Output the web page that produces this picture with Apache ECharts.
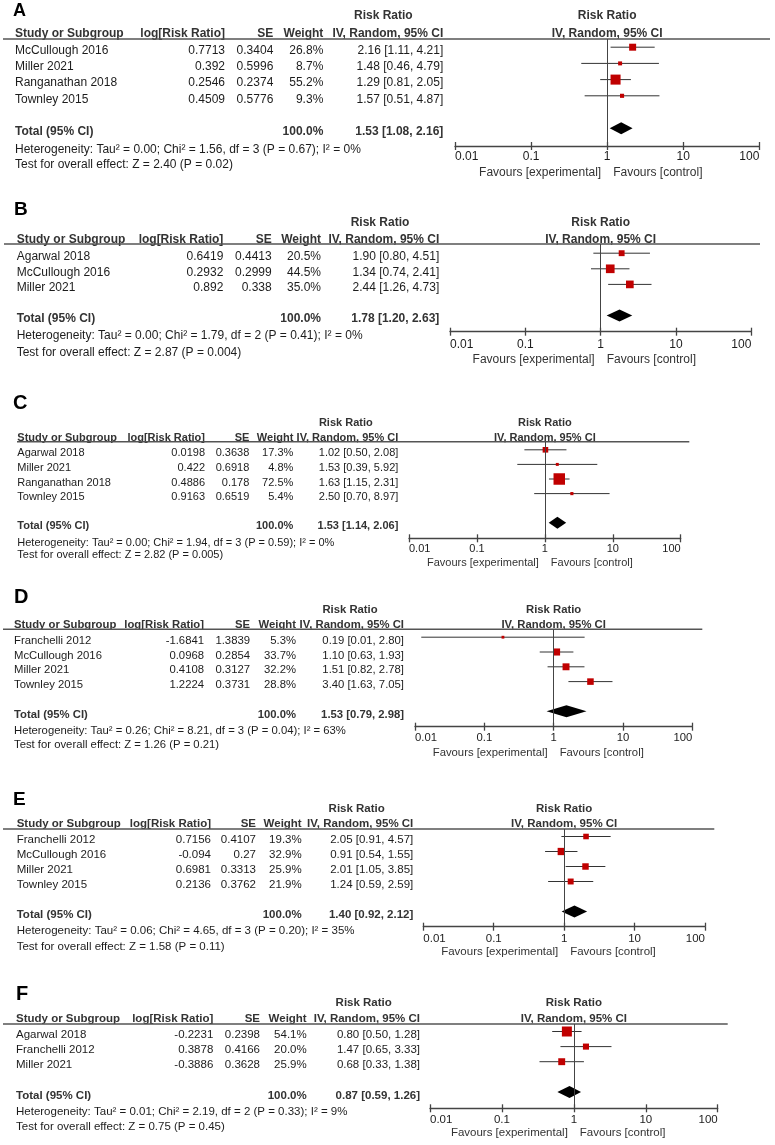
<!DOCTYPE html>
<html><head><meta charset="utf-8">
<script src="https://cdn.jsdelivr.net/npm/echarts@6/dist/echarts.min.js"></script>
<style>html,body{margin:0;padding:0;background:#fff;}#c{width:775px;height:1145px;}</style>
</head><body><div id="c"></div>
<script>
const tickValues = [0.01, 0.1, 1, 10, 100];
const tickLabels = ['0.01', '0.1', '1', '10', '100'];

// Panel A
const studiesA = ['McCullough 2016', 'Miller 2021', 'Ranganathan 2018', 'Townley 2015'];
const logA = [0.7713, 0.392, 0.2546, 0.4509];
const seA = [0.3404, 0.5996, 0.2374, 0.5776];
const weightA = [26.8, 8.7, 55.2, 9.3];
const rrA = [2.16, 1.48, 1.29, 1.57];
const loA = [1.11, 0.46, 0.81, 0.51];
const hiA = [4.21, 4.79, 2.05, 4.87];
const totalA = [1.53, 1.08, 2.16];
const hetA = 'Heterogeneity: Tau² = 0.00; Chi² = 1.56, df = 3 (P = 0.67); I² = 0%';
const testA = 'Test for overall effect: Z = 2.40 (P = 0.02)';

// Panel B
const studiesB = ['Agarwal 2018', 'McCullough 2016', 'Miller 2021'];
const logB = [0.6419, 0.2932, 0.892];
const seB = [0.4413, 0.2999, 0.338];
const weightB = [20.5, 44.5, 35.0];
const rrB = [1.90, 1.34, 2.44];
const loB = [0.80, 0.74, 1.26];
const hiB = [4.51, 2.41, 4.73];
const totalB = [1.78, 1.20, 2.63];
const hetB = 'Heterogeneity: Tau² = 0.00; Chi² = 1.79, df = 2 (P = 0.41); I² = 0%';
const testB = 'Test for overall effect: Z = 2.87 (P = 0.004)';

// Panel C
const studiesC = ['Agarwal 2018', 'Miller 2021', 'Ranganathan 2018', 'Townley 2015'];
const logC = [0.0198, 0.422, 0.4886, 0.9163];
const seC = [0.3638, 0.6918, 0.178, 0.6519];
const weightC = [17.3, 4.8, 72.5, 5.4];
const rrC = [1.02, 1.53, 1.63, 2.50];
const loC = [0.50, 0.39, 1.15, 0.70];
const hiC = [2.08, 5.92, 2.31, 8.97];
const totalC = [1.53, 1.14, 2.06];
const hetC = 'Heterogeneity: Tau² = 0.00; Chi² = 1.94, df = 3 (P = 0.59); I² = 0%';
const testC = 'Test for overall effect: Z = 2.82 (P = 0.005)';

// Panel D
const studiesD = ['Franchelli 2012', 'McCullough 2016', 'Miller 2021', 'Townley 2015'];
const logD = [-1.6841, 0.0968, 0.4108, 1.2224];
const seD = [1.3839, 0.2854, 0.3127, 0.3731];
const weightD = [5.3, 33.7, 32.2, 28.8];
const rrD = [0.19, 1.10, 1.51, 3.40];
const loD = [0.01, 0.63, 0.82, 1.63];
const hiD = [2.80, 1.93, 2.78, 7.05];
const totalD = [1.53, 0.79, 2.98];
const hetD = 'Heterogeneity: Tau² = 0.26; Chi² = 8.21, df = 3 (P = 0.04); I² = 63%';
const testD = 'Test for overall effect: Z = 1.26 (P = 0.21)';

// Panel E
const studiesE = ['Franchelli 2012', 'McCullough 2016', 'Miller 2021', 'Townley 2015'];
const logE = [0.7156, -0.094, 0.6981, 0.2136];
const seE = [0.4107, 0.27, 0.3313, 0.3762];
const weightE = [19.3, 32.9, 25.9, 21.9];
const rrE = [2.05, 0.91, 2.01, 1.24];
const loE = [0.91, 0.54, 1.05, 0.59];
const hiE = [4.57, 1.55, 3.85, 2.59];
const totalE = [1.40, 0.92, 2.12];
const hetE = 'Heterogeneity: Tau² = 0.06; Chi² = 4.65, df = 3 (P = 0.20); I² = 35%';
const testE = 'Test for overall effect: Z = 1.58 (P = 0.11)';

// Panel F
const studiesF = ['Agarwal 2018', 'Franchelli 2012', 'Miller 2021'];
const logF = [-0.2231, 0.3878, -0.3886];
const seF = [0.2398, 0.4166, 0.3628];
const weightF = [54.1, 20.0, 25.9];
const rrF = [0.80, 1.47, 0.68];
const loF = [0.50, 0.65, 0.33];
const hiF = [1.28, 3.33, 1.38];
const totalF = [0.87, 0.59, 1.26];
const hetF = 'Heterogeneity: Tau² = 0.01; Chi² = 2.19, df = 2 (P = 0.33); I² = 9%';
const testF = 'Test for overall effect: Z = 0.75 (P = 0.45)';

const panels = [
  {letter: 'A', studies: studiesA, log: logA, se: seA, weight: weightA, rr: rrA, lo: loA, hi: hiA, total: totalA, het: hetA, test: testA},
  {letter: 'B', studies: studiesB, log: logB, se: seB, weight: weightB, rr: rrB, lo: loB, hi: hiB, total: totalB, het: hetB, test: testB},
  {letter: 'C', studies: studiesC, log: logC, se: seC, weight: weightC, rr: rrC, lo: loC, hi: hiC, total: totalC, het: hetC, test: testC},
  {letter: 'D', studies: studiesD, log: logD, se: seD, weight: weightD, rr: rrD, lo: loD, hi: hiD, total: totalD, het: hetD, test: testD},
  {letter: 'E', studies: studiesE, log: logE, se: seE, weight: weightE, rr: rrE, lo: loE, hi: hiE, total: totalE, het: hetE, test: testE},
  {letter: 'F', studies: studiesF, log: logF, se: seF, weight: weightF, rr: rrF, lo: loF, hi: hiF, total: totalF, het: hetF, test: testF}
];

// layout (pixels) per panel
const layouts = [
  {fs: 12, letterFs: 18, letterX: 13, letterY: 11, rrHeadY: 16, headY: 33.3, under: 39, underX0: 3, underX1: 770, r0: 50.7, s: 16.2, axisY: 146, axisX0: 455, axisX1: 759.3, studyX: 15, logX: 225, seX: 273.3, wX: 323.3, ciX: 443.3, rrHeadX: 383.3, tickOff: 10.7, favY: 172.7, hetY: 149.3, testY: 165, k: 1.35},
  {fs: 12, letterFs: 19, letterX: 14, letterY: 210, rrHeadY: 222.7, headY: 239.3, under: 244, underX0: 4, underX1: 760, r0: 256.7, s: 15.6, axisY: 331.7, axisX0: 450, axisX1: 751.3, studyX: 16.7, logX: 223.3, seX: 271.7, wX: 321, ciX: 439.3, rrHeadX: 380, tickOff: 13, favY: 360, hetY: 336, testY: 352.7, k: 1.3},
  {fs: 11, letterFs: 20, letterX: 13, letterY: 403, rrHeadY: 422.7, headY: 438.3, under: 441.7, underX0: 17, underX1: 689.3, r0: 453.3, s: 14.6, axisY: 538.3, axisX0: 409, axisX1: 680.7, studyX: 17.3, logX: 205, seX: 249.3, wX: 293.3, ciX: 398.3, rrHeadX: 345.8, tickOff: 10.7, favY: 563, hetY: 542.7, testY: 555, k: 1.35},
  {fs: 11.3, letterFs: 20, letterX: 14, letterY: 597.7, rrHeadY: 610, headY: 625, under: 629.3, underX0: 3, underX1: 702.3, r0: 640.7, s: 14.8, axisY: 726.7, axisX0: 415, axisX1: 692.3, studyX: 14, logX: 204, seX: 250, wX: 296, ciX: 404, rrHeadX: 350, tickOff: 11.6, favY: 752.7, hetY: 731, testY: 745.3, k: 1.22},
  {fs: 11.5, letterFs: 19, letterX: 13, letterY: 800, rrHeadY: 809.3, headY: 824, under: 829, underX0: 3, underX1: 714.3, r0: 840, s: 15, axisY: 926.7, axisX0: 423.3, axisX1: 705, studyX: 16.7, logX: 211, seX: 256, wX: 301.7, ciX: 413.3, rrHeadX: 356.7, tickOff: 11.5, favY: 952.3, hetY: 930.7, testY: 947.3, k: 1.27},
  {fs: 11.5, letterFs: 20, letterX: 16, letterY: 994, rrHeadY: 1003.3, headY: 1019, under: 1024, underX0: 3, underX1: 727.7, r0: 1035, s: 15.1, axisY: 1108.3, axisX0: 430, axisX1: 717.7, studyX: 16, logX: 213.3, seX: 260, wX: 306.7, ciX: 420, rrHeadX: 363.7, tickOff: 11.7, favY: 1133.3, hetY: 1111.7, testY: 1126.7, k: 1.36}
];

const FONT = '"Liberation Sans", Arial, sans-serif';
const TXT = '#1c1c1c';
const HEAD = '#333333';
const LINE = '#444444';
const RED = '#c00000';
const MARK_SHIFT = 3.5;

function txt(x, y, text, fs, align, bold, color) {
  return {type: 'text', x: x, y: y, silent: true,
    style: {text: text, fill: color || (bold ? HEAD : TXT), fontSize: fs, fontFamily: FONT,
      fontWeight: bold ? 'bold' : 'normal', align: align || 'left', verticalAlign: 'middle'}};
}
function tickFormatter(v) {
  for (let i = 0; i < tickValues.length; i++) {
    if (Math.abs(Math.log10(v) - Math.log10(tickValues[i])) < 1e-6) return tickLabels[i];
  }
  return '';
}
function ciText(r, l, h) { return r.toFixed(2) + ' [' + l.toFixed(2) + ', ' + h.toFixed(2) + ']'; }

const grids = [], xAxes = [], yAxes = [], series = [], graphics = [];

panels.forEach(function (p, i) {
  const L = layouts[i];
  const n = p.studies.length;
  const mr0 = L.r0 - MARK_SHIFT;
  const lineX = (L.axisX0 + L.axisX1) / 2;
  grids.push({left: L.axisX0, width: L.axisX1 - L.axisX0, top: L.under, height: L.axisY - L.under, containLabel: false});
  const baseX = {type: 'log', logBase: 10, gridIndex: i, min: 0.01, max: 100, position: 'bottom',
    splitLine: {show: false}, minorTick: {show: false}, minorSplitLine: {show: false}};
  xAxes.push(Object.assign({}, baseX, {
    axisLine: {show: true, onZero: false, lineStyle: {color: LINE, width: 1.3}},
    axisTick: {show: true, length: 4, lineStyle: {color: LINE, width: 1.3}},
    axisLabel: {show: true, margin: L.tickOff - L.fs * 0.5, fontSize: L.fs, color: TXT, fontFamily: FONT,
      formatter: tickFormatter, alignMinLabel: 'left', alignMaxLabel: 'right', showMinLabel: true, showMaxLabel: true}
  }));
  xAxes.push(Object.assign({}, baseX, {
    axisLine: {show: false, onZero: false},
    axisTick: {show: true, inside: true, length: 4, lineStyle: {color: LINE, width: 1.3}},
    axisLabel: {show: false}
  }));
  yAxes.push({type: 'value', gridIndex: i, inverse: true, show: false,
    min: (L.under - mr0) / L.s, max: (L.axisY - mr0) / L.s, splitLine: {show: false}});

  const xa = 2 * i;
  // confidence interval whiskers
  series.push({type: 'custom', xAxisIndex: xa, yAxisIndex: i, z: 2, silent: true,
    encode: {x: [0, 1], y: 2},
    data: p.log.map(function (l, j) { return [Math.exp(l - 1.96 * p.se[j]), Math.exp(l + 1.96 * p.se[j]), j]; }),
    renderItem: function (params, api) {
      const a = api.coord([api.value(0), api.value(2)]);
      const b = api.coord([api.value(1), api.value(2)]);
      return {type: 'line', shape: {x1: a[0], y1: a[1], x2: b[0], y2: b[1]}, style: {stroke: '#333', lineWidth: 1}};
    }});
  // study squares
  series.push({type: 'scatter', xAxisIndex: xa, yAxisIndex: i, z: 3, silent: true, symbol: 'rect',
    symbolSize: function (v) { return Math.max(2.5, L.k * Math.sqrt(v[2])); },
    itemStyle: {color: RED, opacity: 1},
    data: p.log.map(function (l, j) { return [Math.exp(l), j, p.weight[j]]; }),
    markLine: {silent: true, symbol: 'none', label: {show: false}, animation: false,
      lineStyle: {color: LINE, width: 1, type: 'solid'}, emphasis: {disabled: true},
      data: [{xAxis: 1}]}
  });
  // total diamond
  series.push({type: 'custom', xAxisIndex: xa, yAxisIndex: i, z: 3, silent: true,
    encode: {x: [0, 1, 2], y: 3},
    data: [[p.total[0], p.total[1], p.total[2], n + 1]],
    renderItem: function (params, api) {
      const c = api.coord([api.value(0), api.value(3)]);
      const l = api.coord([api.value(1), api.value(3)]);
      const h = api.coord([api.value(2), api.value(3)]);
      const hh = 6;
      return {type: 'polygon', shape: {points: [[l[0], c[1]], [c[0], c[1] - hh], [h[0], c[1]], [c[0], c[1] + hh]]},
        style: {fill: '#000'}};
    }});

  // ---- table text ----
  graphics.push(txt(L.letterX, L.letterY, p.letter, L.letterFs, 'left', true, '#000'));
  graphics.push(txt(L.rrHeadX, L.rrHeadY, 'Risk Ratio', L.fs, 'center', true));
  graphics.push(txt(lineX, L.rrHeadY, 'Risk Ratio', L.fs, 'center', true));
  graphics.push(txt(L.studyX, L.headY, 'Study or Subgroup', L.fs, 'left', true));
  graphics.push(txt(L.logX, L.headY, 'log[Risk Ratio]', L.fs, 'right', true));
  graphics.push(txt(L.seX, L.headY, 'SE', L.fs, 'right', true));
  graphics.push(txt(L.wX, L.headY, 'Weight', L.fs, 'right', true));
  graphics.push(txt(L.ciX, L.headY, 'IV, Random, 95% CI', L.fs, 'right', true));
  graphics.push(txt(lineX, L.headY, 'IV, Random, 95% CI', L.fs, 'center', true));
  graphics.push({type: 'line', silent: true, shape: {x1: L.underX0, y1: L.under, x2: L.underX1, y2: L.under},
    style: {stroke: '#555', lineWidth: 1.5}});
  p.studies.forEach(function (s, j) {
    const y = L.r0 + j * L.s;
    graphics.push(txt(L.studyX, y, s, L.fs, 'left'));
    graphics.push(txt(L.logX, y, String(p.log[j]), L.fs, 'right'));
    graphics.push(txt(L.seX, y, String(p.se[j]), L.fs, 'right'));
    graphics.push(txt(L.wX, y, p.weight[j].toFixed(1) + '%', L.fs, 'right'));
    graphics.push(txt(L.ciX, y, ciText(p.rr[j], p.lo[j], p.hi[j]), L.fs, 'right'));
  });
  const ty = L.r0 + (n + 1) * L.s;
  graphics.push(txt(L.studyX, ty, 'Total (95% CI)', L.fs, 'left', true));
  graphics.push(txt(L.wX, ty, '100.0%', L.fs, 'right', true));
  graphics.push(txt(L.ciX, ty, ciText(p.total[0], p.total[1], p.total[2]), L.fs, 'right', true));
  graphics.push(txt(L.studyX, L.hetY, p.het, L.fs, 'left'));
  graphics.push(txt(L.studyX, L.testY, p.test, L.fs, 'left'));
  graphics.push(txt(lineX - 6, L.favY, 'Favours [experimental]', L.fs, 'right', false, '#333'));
  graphics.push(txt(lineX + 6, L.favY, 'Favours [control]', L.fs, 'left', false, '#333'));
});

const chart = echarts.init(document.getElementById('c'), null, {renderer: 'canvas'});
chart.setOption({
  animation: false,
  backgroundColor: '#fff',
  grid: grids,
  xAxis: xAxes,
  yAxis: yAxes,
  series: series,
  graphic: {elements: graphics}
});
</script>
</body></html>
